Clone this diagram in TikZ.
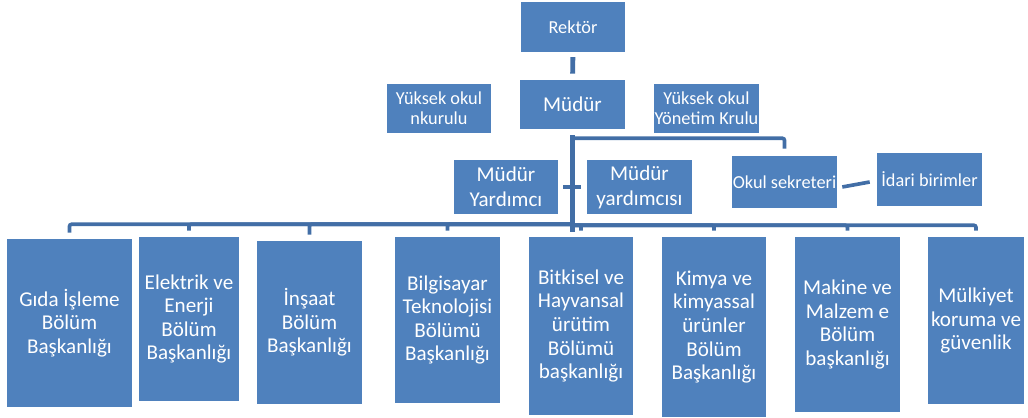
\documentclass[tikz,border=0pt]{standalone}
\usepackage{fontspec}
\setmainfont{Carlito}
\usetikzlibrary{calc}
\definecolor{boxblue}{RGB}{79,129,189}
\definecolor{lineblue}{RGB}{66,110,166}

\begin{document}
\begin{tikzpicture}[x=0.025cm,y=-0.025cm,
unit/.style={fill=boxblue,text=white,inner sep=0pt,align=center},
small/.style={unit,font=\fontsize{13}{14.2}\selectfont},
large/.style={unit,font=\fontsize{15}{17.8}\selectfont},
dept/.style={unit,font=\fontsize{15}{16.8}\selectfont},
link/.style={draw=lineblue,line width=2.6pt,rounded corners=1.5pt},
spine/.style={link,line width=3.5pt}]
\useasboundingbox (0,0) rectangle (1028,418);
% top
\node[small,minimum width=2.6cm,minimum height=1.25cm] (rektor) at (573,27) {Rektör};
\node[large,minimum width=2.625cm,minimum height=1.225cm] (mudur) at (572.5,104.5) {Müdür};
\node[small,minimum width=2.6cm,minimum height=1.225cm] (kurul) at (439,108.5) {Yüksek okul\\nkurulu};
\node[small,minimum width=2.625cm,minimum height=1.225cm] (yonetim) at (706.5,108.5) {Yüksek okul\\Yönetim Krulu};
% middle
\node[large,minimum width=2.6cm,minimum height=1.35cm] (yard1) at (506,187) {Müdür\\Yardımcı};
\node[large,minimum width=2.625cm,minimum height=1.35cm] (yard2) at (639.5,187) {Müdür\\yardımcısı};
\node[small,minimum width=2.625cm,minimum height=1.3cm] (okul) at (784.5,182) {Okul sekreteri};
\node[small,minimum width=2.625cm,minimum height=1.325cm] (idari) at (929.5,179.5) {İdari birimler};
% departments
\node[dept,minimum width=3.125cm,minimum height=4.2cm] (gida) at (69.5,323) {Gıda İşleme\\Bölüm\\Başkanlığı};
\node[dept,minimum width=2.5cm,minimum height=4.1cm] (elektrik) at (189,319) {Elektrik ve\\Enerji\\Bölüm\\Başkanlığı};
\node[dept,minimum width=2.625cm,minimum height=4.075cm] (insaat) at (309.5,322.5) {İnşaat\\Bölüm\\Başkanlığı};
\node[dept,minimum width=2.625cm,minimum height=4.15cm] (bilgi) at (447.5,320) {Bilgisayar\\Teknolojisi\\Bölümü\\Başkanlığı};
\node[dept,minimum width=2.6cm,minimum height=4.45cm] (bitki) at (581,326) {Bitkisel ve\\Hayvansal\\ürütim\\Bölümü\\başkanlığı};
\node[dept,minimum width=2.6cm,minimum height=4.5cm] (kimya) at (714,327) {Kimya ve\\kimyassal\\ürünler\\Bölüm\\Başkanlığı};
\node[dept,minimum width=2.625cm,minimum height=4.375cm] (makine) at (847.5,324.5) {Makine ve\\Malzem e\\Bölüm\\başkanlığı};
\node[dept,minimum width=2.4cm,minimum height=4.175cm] (mulk) at (976,320.5) {Mülkiyet\\koruma ve\\güvenlik};
% connectors
\draw[spine,shorten <=3.5pt,shorten >=4.3pt] (rektor) -- (mudur);
\draw[spine] ($(mudur.south)+(0,6)$) -- ($(mudur.south)+(0,103)$);
\draw[link] ($(mudur.south)+(0,9)$) -| ($(okul.north)+(0,-7)$);
\draw[link] ($(yard1.east)+(5,0)$) -- ($(yard2.west)+(-6,0)$);
\draw[link] ($(okul.east)+(5,5)$) -- ($(idari.west)+(-7,2.5)$);
\foreach \d in {gida,elektrik,insaat,bilgi}
  \draw[link] ($(mudur.south)+(0,95)$) -| ($(\d.north)+(0,-6)$);
\foreach \d in {bitki,kimya,makine,mulk}
  \draw[link] ($(mudur.south)+(0,96)$) -| ($(\d.north)+(0,-6)$);
\end{tikzpicture}
\end{document}
